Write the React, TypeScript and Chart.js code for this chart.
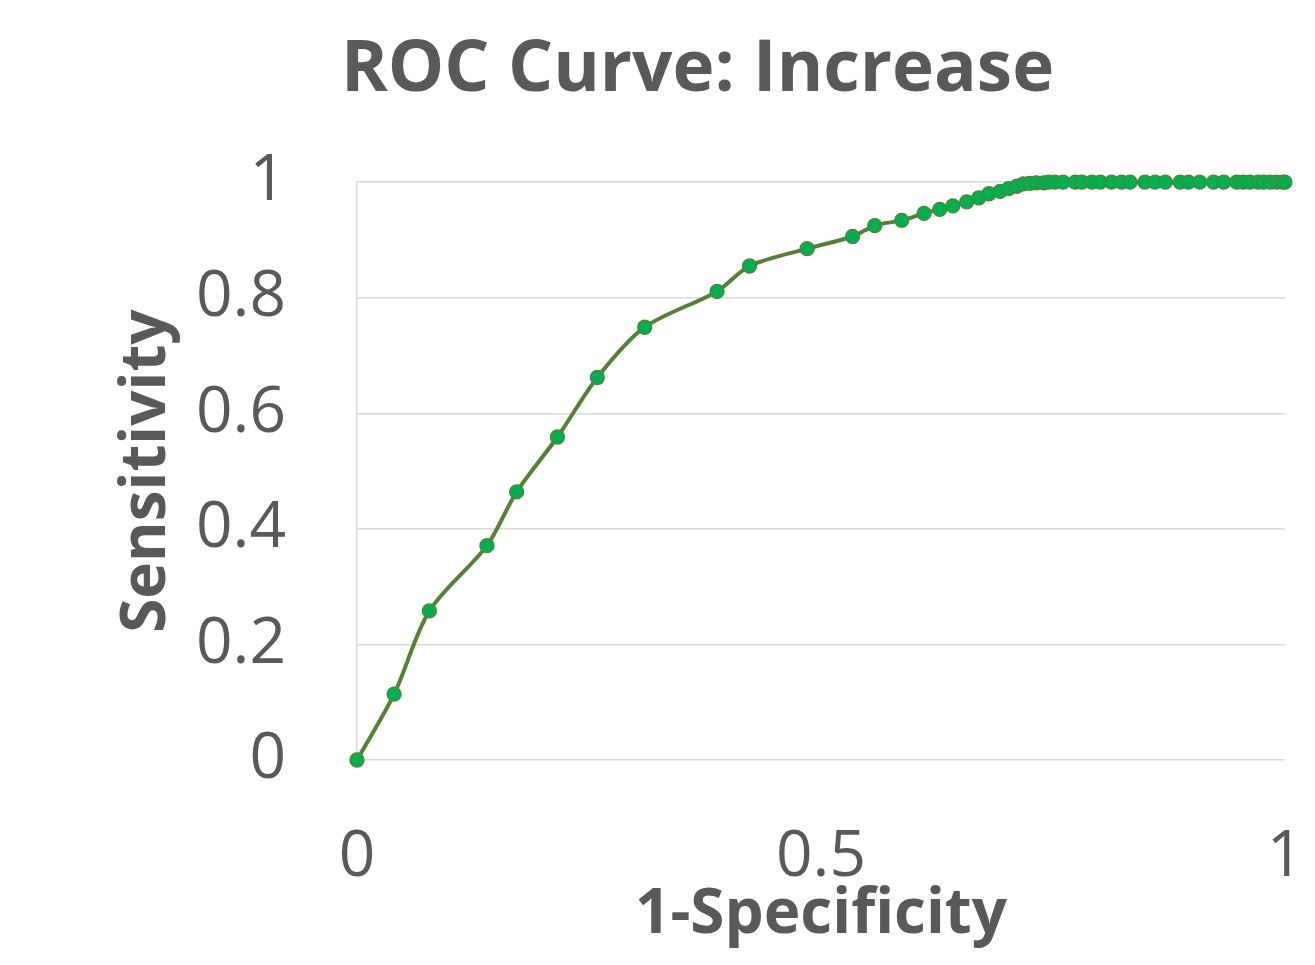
import React, { useEffect, useRef } from "react";
import { Chart, registerables } from "chart.js";

Chart.register(...registerables);

const chartTitle = "ROC Curve: Increase";
const xAxisTitle = "1-Specificity";
const yAxisTitle = "Sensitivity";

const fpr = [
  0, 0.04, 0.078, 0.14, 0.172, 0.216, 0.259, 0.31, 0.388, 0.423,
  0.485, 0.534, 0.558, 0.587, 0.611, 0.628, 0.642, 0.657, 0.67, 0.681,
  0.693, 0.702, 0.711, 0.718, 0.725, 0.732, 0.74, 0.745, 0.752, 0.761,
  0.774, 0.781, 0.792, 0.801, 0.813, 0.824, 0.833, 0.849, 0.86, 0.871,
  0.887, 0.896, 0.908, 0.923, 0.934, 0.948, 0.955, 0.962, 0.971, 0.977,
  0.984, 0.991, 0.998, 1.0,
];

const tpr = [
  0, 0.114, 0.258, 0.371, 0.464, 0.559, 0.662, 0.749, 0.811, 0.855,
  0.885, 0.906, 0.925, 0.934, 0.946, 0.953, 0.959, 0.966, 0.973, 0.98,
  0.984, 0.989, 0.993, 0.997, 0.998, 0.999, 0.999, 1, 1, 1,
  1, 1, 1, 1, 1, 1, 1, 1, 1, 1,
  1, 1, 1, 1, 1, 1, 1, 1, 1, 1,
  1, 1, 1, 1,
];

const textColor = "#595959";
const gridColor = "#D9D9D9";
const lineColor = "#548235";
const markerColor = "#00B050";

const fmt = (v: any) => String(Math.round(Number(v) * 10) / 10);

export default function App() {
  const ref = useRef<HTMLCanvasElement | null>(null);

  useEffect(() => {
    if (!ref.current) return;
    const points = fpr.map((x, i) => ({ x, y: tpr[i] }));
    const chart = new Chart(ref.current, {
      type: "scatter",
      data: {
        datasets: [
          {
            label: "ROC",
            data: points,
            showLine: true,
            clip: false,
            borderColor: lineColor,
            borderWidth: 4,
            tension: 0.3,
            pointRadius: 7,
            pointBackgroundColor: markerColor,
            pointBorderColor: lineColor,
            pointBorderWidth: 1.3,
          } as any,
        ],
      },
      options: {
        responsive: false,
        animation: false,
        layout: { padding: { left: 110, right: 30, top: 0, bottom: 0 } },
        plugins: {
          legend: { display: false },
          tooltip: { enabled: false },
          title: {
            display: true,
            text: chartTitle,
            color: textColor,
            font: { family: "'Open Sans'", size: 71, weight: "bold" },
            padding: { top: 28, bottom: 69 },
          },
        },
        scales: {
          x: {
            type: "linear",
            min: 0,
            max: 1,
            afterFit: (s: any) => {
              s.height = 205;
              s.paddingLeft = 0;
              s.paddingRight = 0;
            },
            ticks: {
              stepSize: 0.5,
              color: textColor,
              font: { family: "'Open Sans'", size: 64 },
              padding: 59,
              maxRotation: 0,
              callback: fmt,
            },
            grid: { display: false, drawTicks: false },
            border: { display: false },
            title: {
              display: true,
              text: xAxisTitle,
              color: textColor,
              font: { family: "'Open Sans'", size: 62, weight: "bold" },
              padding: { top: 0, bottom: 12 },
            },
          },
          y: {
            type: "linear",
            min: 0,
            max: 1,
            afterFit: (s: any) => {
              s.width = 247;
            },
            ticks: {
              stepSize: 0.2,
              color: textColor,
              font: { family: "'Open Sans'", size: 64 },
              padding: 71,
              callback: fmt,
            },
            grid: { color: gridColor, lineWidth: 1.5, drawTicks: false },
            border: { display: true, color: gridColor, width: 1.5 },
            title: {
              display: true,
              text: yAxisTitle,
              color: textColor,
              font: { family: "'Open Sans'", size: 62, weight: "bold" },
              padding: { top: 0, bottom: 0 },
            },
          },
        },
      },
    });
    return () => chart.destroy();
  }, []);

  return (
    <canvas
      ref={ref}
      width={1315}
      height={965}
      style={{ position: "absolute", left: 0, top: 0, display: "block" }}
    />
  );
}
